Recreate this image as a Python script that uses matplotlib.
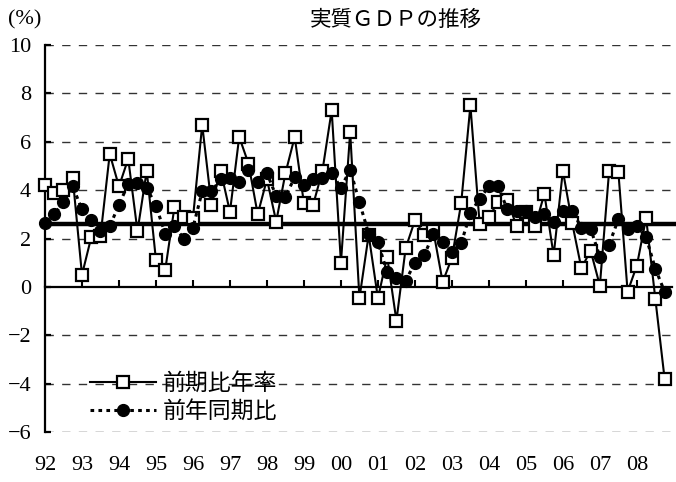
import matplotlib
matplotlib.use("Agg")
import matplotlib.pyplot as plt
import numpy as np

# 四半期 1992Q1 - 2008Q4
years = ["92", "93", "94", "95", "96", "97", "98", "99", "00",
         "01", "02", "03", "04", "05", "06", "07", "08"]

# 前期比年率 (%)
qoq_annual = [4.2, 3.9, 4.0, 4.5, 0.5, 2.05, 2.1, 5.5,
              4.15, 5.3, 2.3, 4.8, 1.1, 0.7, 3.3, 2.9,
              2.85, 6.7, 3.4, 4.8, 3.1, 6.2, 5.1, 3.0,
              4.45, 2.7, 4.7, 6.2, 3.45, 3.4, 4.8, 7.3,
              1.0, 6.4, -0.47, 2.15, -0.47, 1.25, -1.4, 1.6,
              2.75, 2.15, 2.3, 0.2, 1.2, 3.45, 7.5, 2.6,
              2.9, 3.5, 3.6, 2.5, 3.1, 2.5, 3.85, 1.3,
              4.8, 2.65, 0.77, 1.5, 0.05, 4.8, 4.75, -0.2,
              0.88, 2.85, -0.5, -3.8]

# 前年同期比 (%)
yoy = [2.65, 3.0, 3.5, 4.15, 3.2, 2.75, 2.3, 2.5,
       3.4, 4.25, 4.3, 4.1, 3.35, 2.2, 2.5, 2.0,
       2.45, 3.95, 3.95, 4.45, 4.5, 4.35, 4.85, 4.35,
       4.7, 3.75, 3.7, 4.55, 4.2, 4.45, 4.5, 4.7,
       4.1, 4.85, 3.5, 2.2, 1.85, 0.6, 0.35, 0.25,
       1.0, 1.3, 2.2, 1.85, 1.45, 1.8, 3.05, 3.65,
       4.15, 4.15, 3.2, 3.15, 3.15, 2.9, 3.0, 2.7,
       3.15, 3.15, 2.45, 2.4, 1.25, 1.75, 2.8, 2.4,
       2.5, 2.05, 0.75, -0.2]

# 太い横線 (平均)
avg_level = 2.6

serif = "Liberation Serif"
jp = ["Noto Sans CJK JP", "DejaVu Sans"]

x = np.arange(len(qoq_annual))

fig = plt.figure(figsize=(6.76, 4.82), dpi=100)
ax = fig.add_axes([45/676, 1-432/482, (672-45)/676, (432-45)/482])

ax.set_xlim(0, 67.8)
ax.set_ylim(-6, 10)

# grid
for yv in [-6, -4, -2, 2, 4, 6, 8, 10]:
    ax.axhline(yv, color="#333333", lw=1.0, linestyle=(0, (6, 6)), zorder=1)

ax.axhline(avg_level, xmin=0, xmax=(676-45)/(672-45), color="black",
           lw=3.2, zorder=2, clip_on=False)

ax.plot(x, qoq_annual, color="black", lw=1.5, marker="s", markersize=8,
        markerfacecolor="white", markeredgecolor="black", markeredgewidth=1.6,
        label="前期比年率", zorder=3, clip_on=False)
ax.plot(x, yoy, color="black", lw=2.2, linestyle=(0, (1.2, 1.4)), marker="o",
        markersize=8.5, markerfacecolor="black", markeredgecolor="black",
        label="前年同期比", zorder=4, clip_on=False)

# spines
for s in ["top", "right", "bottom"]:
    ax.spines[s].set_visible(False)
ax.spines["left"].set_linewidth(1.6)

ax.set_yticks(range(-6, 11, 2))
ax.set_yticklabels([str(v).replace("-", "\u2212") for v in range(-6, 11, 2)],
                   fontfamily=serif, fontsize=16)
ax.tick_params(axis="y", direction="in", length=4, width=1.6, pad=10)

ticks = np.arange(0, len(qoq_annual), 4)
ax.set_xticks(ticks)
ax.set_xticklabels(years, fontfamily=serif, fontsize=16)
ax.tick_params(axis="x", length=0, pad=17)

# zero axis with ticks
sec = ax.secondary_xaxis(6/16)
sec.set_xticks(ticks)
sec.tick_params(axis="x", direction="in", length=5, width=1.5, labelbottom=False)
sec.spines["bottom"].set_linewidth(1.6)

leg = ax.legend(loc="upper left", bbox_to_anchor=(45/627, 1-(372-45)/387),
                frameon=False, prop={"family": jp, "size": 16.5},
                handlelength=2.9, handletextpad=0.26, labelspacing=0.22,
                borderpad=0, borderaxespad=0)

fig.text(8/676, 1-20/482, "(%)", fontfamily=serif, fontsize=16, va="center")
fig.text(396/676, 1-20/482, "実質ＧＤＰの推移", family=jp, fontsize=15.5,
         ha="center", va="center")

fig.savefig("out.png", dpi=100)
